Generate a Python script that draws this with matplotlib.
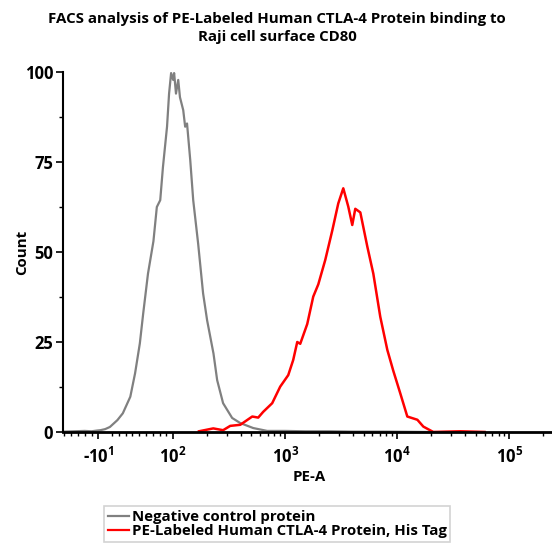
import matplotlib
matplotlib.use("Agg")
import matplotlib.pyplot as plt
from matplotlib.lines import Line2D
from matplotlib.ticker import FixedLocator, NullFormatter

plt.rcParams['font.family'] = ['Open Sans', 'DejaVu Sans']
plt.rcParams['font.weight'] = 'bold'
plt.rcParams['mathtext.default'] = 'regular'

# negative control (gray) histogram, PE-A value vs count
neg_x = [-60, -45, -30, -20, -12, -7, 0, 7, 18, 26,
         37, 44, 51, 56, 63, 71, 76, 81, 85, 91,
         94, 97, 100, 102, 106, 111, 115, 123, 128, 133,
         142, 151, 167, 185, 201, 229, 247, 279, 336, 396,
         518, 690, 1000, 1500, 2500, 4000, 8000, 20000, 60000]
neg_count = [0.1, 0.2, 0.3, 0.2, 0.4, 0.5, 0.8, 1.4, 3.3, 5.2,
             9.8, 16.3, 24.6, 33, 44, 53, 62.5, 64.4, 73.6, 84.8,
             94, 99.7, 97.8, 99.7, 94, 97.8, 93, 89.4, 84.8, 85.7,
             75.6, 64.4, 52.4, 38.5, 31, 21.8, 14.4, 8, 3.9, 2.5,
             1.1, 0.3, 0.3, 0.2, 0.2, 0.1, 0.1, 0, 0]

# PE-labeled CTLA-4 (red) histogram
pe_x = [170, 228, 279, 323, 397, 508, 574, 636, 765, 902,
        1064, 1178, 1280, 1361, 1572, 1778, 1972, 2276, 2630, 2974,
        3296, 3652, 3963, 4217, 4677, 5400, 6108, 7047, 8146, 9207,
        10638, 12280, 15100, 17070, 20960, 36520, 60000]
pe_count = [0.2, 1, 0.5, 1.7, 2, 4.3, 4, 5.6, 8, 12.6,
            15.8, 20, 25, 24.5, 30, 37.6, 41, 47.8, 56, 63.5,
            67.7, 62.6, 57.5, 62, 61, 51.5, 44, 32, 22.8, 17,
            10.7, 4.3, 3.4, 1.5, 0, 0.2, 0]

x_ticks = [-10, 100, 1000, 10000, 100000]
x_tick_labels = ['-10$^{1}$', '10$^{2}$', '10$^{3}$', '10$^{4}$', '10$^{5}$']
y_ticks = [0, 25, 50, 75, 100]

series_names = ['Negative control protein', 'PE-Labeled Human CTLA-4 Protein, His Tag']
series_colors = ['#808080', '#ff0000']

fig = plt.figure(figsize=(5.52, 5.54), dpi=100)
ax = fig.add_axes([63 / 552, 1 - 432 / 554, 1 - 63 / 552, 360 / 554])

ax.plot(neg_x, neg_count, color=series_colors[0], lw=1.6)
ax.plot(pe_x, pe_count, color=series_colors[1], lw=1.8)

ax.set_xscale('symlog', linthresh=100, linscale=0.546)
ax.set_xlim(-62, 2.4e5)
ax.set_ylim(0, 100)

minor = [-60, -50, -40, -30, -20, 10, 20, 30, 40, 50, 60, 70, 80, 90]
for d in [100, 1000, 10000, 100000]:
    minor += [d * k for k in range(2, 10)]
ax.xaxis.set_major_locator(FixedLocator(x_ticks))
ax.xaxis.set_minor_locator(FixedLocator(minor))
ax.xaxis.set_minor_formatter(NullFormatter())
ax.set_xticklabels(x_tick_labels)
ax.set_yticks(y_ticks)
ax.yaxis.set_minor_locator(FixedLocator([12.5, 37.5, 62.5, 87.5]))

ax.tick_params(axis='both', which='major', direction='out', length=5, width=1.2,
               labelsize=12, pad=2)
ax.tick_params(axis='both', which='minor', direction='out', length=3, width=1)
ax.tick_params(axis='x', which='major', pad=6)

for s in ['top', 'right']:
    ax.spines[s].set_visible(False)
ax.spines['left'].set_linewidth(1.5)
ax.spines['bottom'].set_linewidth(2)

fig.text(277 / 552, 1 - 28 / 554,
         'FACS analysis of PE-Labeled Human CTLA-4 Protein binding to\nRaji cell surface CD80',
         ha='center', va='center', fontsize=10.8, fontweight='bold', linespacing=1.45)
fig.text(22 / 552, 1 - 252 / 554, 'Count', rotation=90, ha='center', va='center',
         fontsize=10.8, fontweight='bold')
fig.text(309 / 552, 1 - 477 / 554, 'PE-A', ha='center', va='center',
         fontsize=10.8, fontweight='bold')

handles = [Line2D([], [], color=c, lw=1.6) for c in series_colors]
leg = fig.legend(handles, series_names, loc='upper left',
                 bbox_to_anchor=(104 / 552, 1 - 506 / 554), frameon=True, fancybox=False,
                 fontsize=10.8, handlelength=1.4, handletextpad=0.2, labelspacing=0.0,
                 borderpad=0.25, borderaxespad=0)
leg.get_frame().set_edgecolor('#c8c8c8')
leg.get_frame().set_linewidth(1.2)

fig.savefig('out.png', dpi=100)
